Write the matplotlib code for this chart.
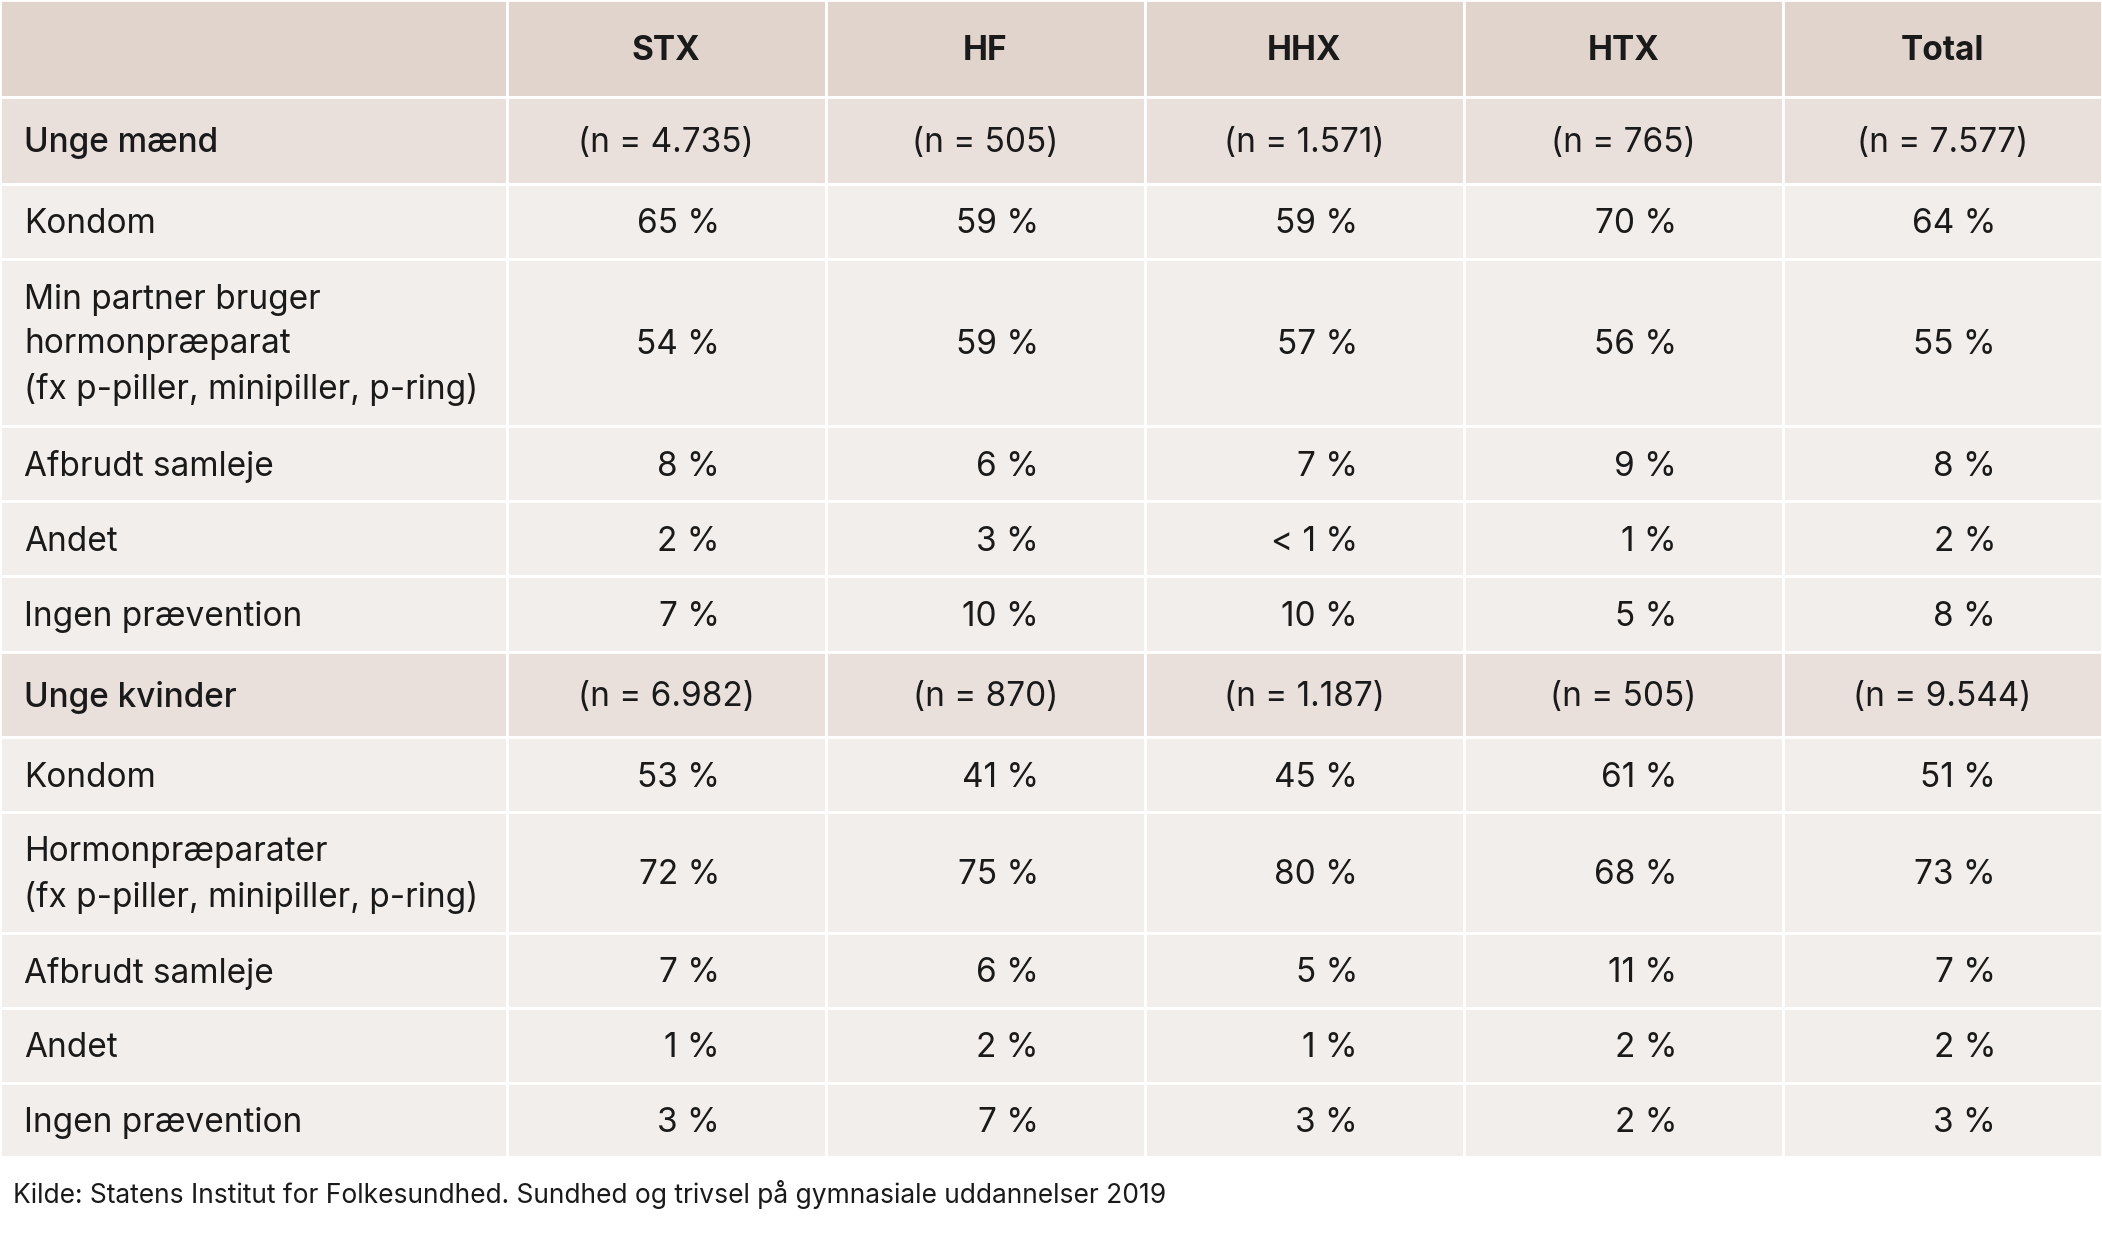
import matplotlib.pyplot as plt
from matplotlib.patches import Rectangle

plt.rcParams["font.family"] = ["Inter", "DejaVu Sans"]

columns = ["STX", "HF", "HHX", "HTX", "Total"]
men_n = ["(n = 4.735)", "(n = 505)", "(n = 1.571)", "(n = 765)", "(n = 7.577)"]
men_labels = ["Kondom", "Min partner bruger\nhormonpræparat\n(fx p-piller, minipiller, p-ring)",
              "Afbrudt samleje", "Andet", "Ingen prævention"]
men_values = [
    ["65 %", "59 %", "59 %", "70 %", "64 %"],
    ["54 %", "59 %", "57 %", "56 %", "55 %"],
    ["8 %", "6 %", "7 %", "9 %", "8 %"],
    ["2 %", "3 %", "< 1 %", "1 %", "2 %"],
    ["7 %", "10 %", "10 %", "5 %", "8 %"],
]
women_n = ["(n = 6.982)", "(n = 870)", "(n = 1.187)", "(n = 505)", "(n = 9.544)"]
women_labels = ["Kondom", "Hormonpræparater\n(fx p-piller, minipiller, p-ring)",
                "Afbrudt samleje", "Andet", "Ingen prævention"]
women_values = [
    ["53 %", "41 %", "45 %", "61 %", "51 %"],
    ["72 %", "75 %", "80 %", "68 %", "73 %"],
    ["7 %", "6 %", "5 %", "11 %", "7 %"],
    ["1 %", "2 %", "1 %", "2 %", "2 %"],
    ["3 %", "7 %", "3 %", "2 %", "3 %"],
]
source = "Kilde: Statens Institut for Folkesundhed. Sundhed og trivsel på gymnasiale uddannelser 2019"

# layout in reference pixel units
W, H = 1568, 925
col_x = [0, 378, 616, 854, 1092, 1330, 1568]
men_rows = [137, 193, 318, 374, 430, 486]
women_rows = [550, 606, 696, 752, 808, 863]
HEAD_C, GROUP_C, ROW_C = "#e0d4cd", "#e9e0dc", "#f2eeeb"
TXT = "#1a1a1a"
FS = 24

fig = plt.figure(figsize=(21.02, 12.40), dpi=100)
ax = fig.add_axes([0, 0, 1, 1])
ax.set_xlim(0, W)
ax.set_ylim(H, 0)
ax.axis("off")


def cell(x0, x1, y0, y1, color):
    ax.add_patch(Rectangle((x0, y0), x1 - x0, y1 - y0, facecolor=color,
                           edgecolor="white", linewidth=2))


def band(y0, y1, color):
    for i in range(6):
        cell(col_x[i], col_x[i + 1], y0, y1, color)


# header
band(0, 72, HEAD_C)
for i, c in enumerate(columns):
    ax.text((col_x[i + 1] + col_x[i + 2]) / 2, 38, c, ha="center", va="center",
            fontsize=FS, fontweight="bold", color=TXT)


def group(y0, y1, title, ns, labels, values, bounds):
    band(y0, y1, GROUP_C)
    ym = (y0 + y1) / 2 + 2
    ax.text(18, ym, title, ha="left", va="center", fontsize=FS, fontweight="medium", color=TXT)
    for i, n in enumerate(ns):
        ax.text((col_x[i + 1] + col_x[i + 2]) / 2, ym, n, ha="center", va="center",
                fontsize=FS, color=TXT)
    for r, (lab, vals) in enumerate(zip(labels, values)):
        a, b = bounds[r], bounds[r + 1]
        band(a, b, ROW_C)
        m = (a + b) / 2 + 2
        ax.text(18, m, lab, ha="left", va="center", fontsize=FS, color=TXT, linespacing=1.5)
        for i, v in enumerate(vals):
            ax.text(col_x[i + 1] + 159, m, v, ha="right", va="center", fontsize=FS, color=TXT)


group(72, 137, "Unge mænd", men_n, men_labels, men_values, men_rows)
group(486, 550, "Unge kvinder", women_n, women_labels, women_values, women_rows)

ax.text(10, 891, source, ha="left", va="center", fontsize=19, color=TXT)

fig.savefig("out.png", dpi=100, facecolor="white")
